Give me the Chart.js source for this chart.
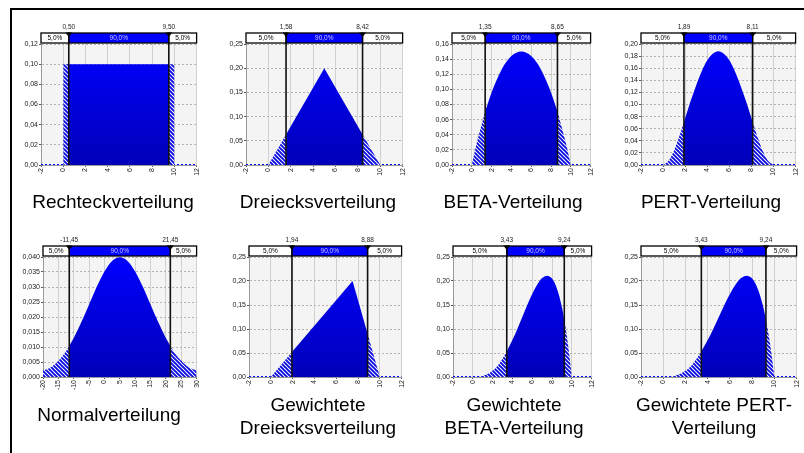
<!DOCTYPE html>
<html>
<head>
<meta charset="utf-8">
<script src="https://cdn.jsdelivr.net/npm/chart.js@4.4.1/dist/chart.umd.min.js"></script>
<style>
  body { margin:0; background:#fff; width:804px; height:453px; overflow:hidden; position:relative;
         font-family:'Liberation Sans', Arial, sans-serif; }
  #frame { position:absolute; left:10px; top:8px; width:800px; height:450px;
           border-left:2px solid #000; border-top:2px solid #000; }
  canvas { position:absolute; }
  .t { position:absolute; width:230px; text-align:center; font-size:19px; line-height:23px;
       color:#000; white-space:pre-line; }
</style>
</head>
<body>
<div id="frame"></div>
<script>
// chart data
var titles = ['Rechteckverteilung', 'Dreiecksverteilung', 'BETA-Verteilung', 'PERT-Verteilung',
              'Normalverteilung', 'Gewichtete\nDreiecksverteilung', 'Gewichtete\nBETA-Verteilung', 'Gewichtete PERT-\nVerteilung'];
var xMin  = [-2, -2, -2, -2, -20, -2, -2, -2];
var xMax  = [12, 12, 12, 12, 30, 12, 12, 12];
var xStep = [2, 2, 2, 2, 5, 2, 2, 2];
var yMax  = [0.12, 0.25, 0.16, 0.20, 0.040, 0.25, 0.25, 0.25];
var yStep = [0.02, 0.05, 0.02, 0.02, 0.005, 0.05, 0.05, 0.05];
var yDec  = [2, 2, 2, 2, 3, 2, 2, 2];
var p5    = [0.50, 1.58, 1.35, 1.89, -11.45, 1.94, 3.43, 3.43];
var p95   = [9.50, 8.42, 8.65, 8.11, 21.45, 8.88, 9.24, 9.24];
var tailText = '5,0%';
var midText = '90,0%';
var smooth = [false, false, true, true, true, false, true, true];

var curveX = [
  [0, 0.5, 9.5, 10],
  [0, 1.58, 5, 8.42, 10],
  [0, 0.5, 1, 1.35, 2, 3, 4, 5, 6, 7, 8, 8.65, 9, 9.5, 10],
  [0, 0.5, 1, 1.5, 1.89, 2.5, 3, 3.5, 4, 4.5, 5, 5.5, 6, 6.5, 7, 7.5, 8.11, 8.5, 9, 9.5, 10],
  [-20, -17.5, -15, -12.5, -11.45, -10, -7.5, -5, -2.5, 0, 2.5, 5, 7.5, 10, 12.5, 15, 17.5, 20, 21.45, 22.5, 25, 27.5, 30],
  [0, 1.94, 7.5, 8.88, 10],
  [0, 0.5, 1, 1.5, 2, 2.5, 3, 3.43, 4, 4.5, 5, 5.5, 6, 6.5, 7, 7.5, 8, 8.5, 9, 9.24, 9.5, 9.75, 10],
  [0, 0.5, 1, 1.5, 2, 2.5, 3, 3.43, 4, 4.5, 5, 5.5, 6, 6.5, 7, 7.5, 8, 8.5, 9, 9.24, 9.5, 9.75, 10]
];
var curveY = [
  [0.10, 0.10, 0.10, 0.10],
  [0, 0.063, 0.20, 0.063, 0],
  [0, 0.029, 0.054, 0.071, 0.096, 0.126, 0.144, 0.150, 0.144, 0.126, 0.096, 0.071, 0.054, 0.029, 0],
  [0, 0.007, 0.024, 0.049, 0.071, 0.106, 0.132, 0.155, 0.173, 0.184, 0.188, 0.184, 0.173, 0.155, 0.132, 0.106, 0.071, 0.049, 0.024, 0.007, 0],
  [0.0022, 0.0032, 0.0054, 0.0086, 0.0103, 0.0130, 0.0183, 0.0242, 0.0301, 0.0352, 0.0387, 0.0399, 0.0387, 0.0352, 0.0301, 0.0242, 0.0183, 0.0130, 0.0103, 0.0086, 0.0054, 0.0032, 0.0022],
  [0, 0.052, 0.20, 0.090, 0],
  [0, 0.0002, 0.002, 0.006, 0.013, 0.023, 0.038, 0.053, 0.077, 0.100, 0.125, 0.150, 0.173, 0.192, 0.206, 0.211, 0.205, 0.184, 0.146, 0.120, 0.086, 0.046, 0],
  [0, 0.0002, 0.002, 0.006, 0.013, 0.023, 0.038, 0.053, 0.077, 0.100, 0.125, 0.150, 0.173, 0.192, 0.206, 0.211, 0.205, 0.184, 0.146, 0.120, 0.086, 0.046, 0]
];

// where each plot area sits on the page: left, top, right, bottom
var boxes = [[41, 44, 200, 165], [246, 44, 406, 165], [452, 44, 594, 165], [641, 44, 799, 165],
             [43, 257, 200, 377], [249, 257, 405, 377], [453, 257, 595, 377], [641, 257, 800, 377]];
var titleX = [113, 318, 513, 711, 109, 318, 514, 714];
var titleY = [190, 190, 190, 190, 403, 393, 393, 393];

var tickFont = {family: 'Liberation Sans', size: 7};
var smallFont = '6.5px "Liberation Sans"';

function hatch() {
  var p = document.createElement('canvas');
  p.width = 4; p.height = 4;
  var g = p.getContext('2d');
  g.fillStyle = '#fff';
  g.fillRect(0, 0, 4, 4);
  g.strokeStyle = '#0a0ae0';
  g.lineWidth = 1.9;
  g.beginPath();
  g.moveTo(-1, -1); g.lineTo(5, 5);
  g.moveTo(-1, 3); g.lineTo(1, 5);
  g.moveTo(3, -1); g.lineTo(5, 1);
  g.stroke();
  return g.createPattern(p, 'repeat');
}

function pick(xs, ys, from, to) {
  var out = [];
  for (var k = 0; k < xs.length; k++) {
    if (xs[k] >= from && xs[k] <= to) out.push({x: xs[k], y: ys[k]});
  }
  return out;
}

function solidFill(ctx) {
  var area = ctx.chart.chartArea;
  if (!area) return '#0000ff';
  var g = ctx.chart.ctx.createLinearGradient(0, area.top, 0, area.bottom);
  g.addColorStop(0, '#0000ff');
  g.addColorStop(1, '#0000b8');
  return g;
}

function comma(v, d) { return v.toFixed(d).replace('.', ','); }

for (let i = 0; i < 8; i++) {
  var b = boxes[i];
  var cv = document.createElement('canvas');
  var cl = b[0] - 40, ct = b[1] - 30;
  cv.width = b[2] - b[0] + 46;
  cv.height = b[3] - b[1] + 58;
  cv.style.left = cl + 'px';
  cv.style.top = ct + 'px';
  document.body.appendChild(cv);

  var t = document.createElement('div');
  t.className = 't';
  t.textContent = titles[i];
  t.style.left = (titleX[i] - 115) + 'px';
  t.style.top = titleY[i] + 'px';
  document.body.appendChild(t);

  var pat = hatch();
  var tension = smooth[i] ? 'monotone' : 'default';
  var common = {fill: 'origin', borderWidth: 0, borderColor: 'transparent', pointRadius: 0,
                tension: 0, cubicInterpolationMode: tension};

  var panel = {
    id: 'panel' + i,
    beforeDraw: function (chart) {
      var a = chart.chartArea, c = chart.ctx;
      c.save();
      c.fillStyle = '#f4f4f4';
      c.fillRect(a.left, a.top, a.right - a.left, a.bottom - a.top);
      c.restore();
    },
    afterDraw: function (chart) {
      var a = chart.chartArea, c = chart.ctx, sx = chart.scales.x;
      var xl = sx.getPixelForValue(p5[i]), xh = sx.getPixelForValue(p95[i]);
      var top = a.top - 11, h = 10;
      c.save();
      // percentile lines
      c.strokeStyle = '#111';
      c.lineWidth = 1.6;
      c.beginPath();
      c.moveTo(xl, top + h); c.lineTo(xl, a.bottom);
      c.moveTo(xh, top + h); c.lineTo(xh, a.bottom);
      c.stroke();
      // 5 / 90 / 5 bar
      c.fillStyle = '#fff';
      c.fillRect(a.left, top, xl - a.left, h);
      c.fillRect(xh, top, a.right - xh, h);
      c.fillStyle = '#0000ff';
      c.fillRect(xl, top, xh - xl, h);
      c.strokeStyle = '#000';
      c.lineWidth = 1.3;
      c.strokeRect(a.left, top, xl - a.left, h);
      c.strokeRect(xl, top, xh - xl, h);
      c.strokeRect(xh, top, a.right - xh, h);
      c.font = smallFont;
      c.textAlign = 'center';
      c.textBaseline = 'middle';
      c.fillStyle = '#000';
      c.fillText(tailText, (a.left + xl) / 2, top + h / 2 + 0.5);
      c.fillText(tailText, (xh + a.right) / 2, top + h / 2 + 0.5);
      c.fillStyle = '#c8c8ff';
      c.fillText(midText, (xl + xh) / 2, top + h / 2 + 0.5);
      // markers and values
      c.fillStyle = '#000';
      [xl, xh].forEach(function (x) {
        c.beginPath();
        c.moveTo(x - 3.5, top - 0.5);
        c.lineTo(x + 3.5, top - 0.5);
        c.lineTo(x, top + 4);
        c.closePath();
        c.fill();
      });
      c.fillStyle = '#222';
      c.fillText(comma(p5[i], 2), xl, top - 6);
      c.fillText(comma(p95[i], 2), xh, top - 6);
      c.restore();
    }
  };

  new Chart(cv, {
    type: 'line',
    data: {
      datasets: [
        Object.assign({data: pick(curveX[i], curveY[i], -Infinity, p5[i]), backgroundColor: pat}, common),
        Object.assign({data: pick(curveX[i], curveY[i], p5[i], p95[i]), backgroundColor: solidFill}, common),
        Object.assign({data: pick(curveX[i], curveY[i], p95[i], Infinity), backgroundColor: pat}, common),
        {data: [{x: xMin[i], y: 0}, {x: xMax[i], y: 0}], borderColor: '#0000ff', borderWidth: 2,
         borderDash: [2, 2], fill: false, pointRadius: 0}
      ]
    },
    options: {
      responsive: false,
      animation: false,
      layout: {padding: {top: 30, right: 6, left: 0, bottom: 0}},
      plugins: {legend: {display: false}, tooltip: {enabled: false}},
      scales: {
        x: {
          type: 'linear', min: xMin[i], max: xMax[i],
          ticks: {stepSize: xStep[i], minRotation: 90, maxRotation: 90, autoSkip: false,
                  font: tickFont, color: '#222', padding: 1,
                  callback: function (v) { return String(v); }},
          grid: {color: '#d0d0d0', tickLength: 2, tickColor: '#555'},
          border: {color: '#999'},
          afterFit: function (s) { s.height = 28; }
        },
        y: {
          min: 0, max: yMax[i],
          ticks: {stepSize: yStep[i], font: tickFont, color: '#222', padding: 1,
                  callback: function (v) { return comma(v, yDec[i]); }},
          grid: {color: '#b4b4b4', tickLength: 2, tickColor: '#555'},
          border: {color: '#999', dash: [2, 2]},
          afterFit: function (s) { s.width = 40; }
        }
      }
    },
    plugins: [panel]
  });
}
</script>
</body>
</html>
